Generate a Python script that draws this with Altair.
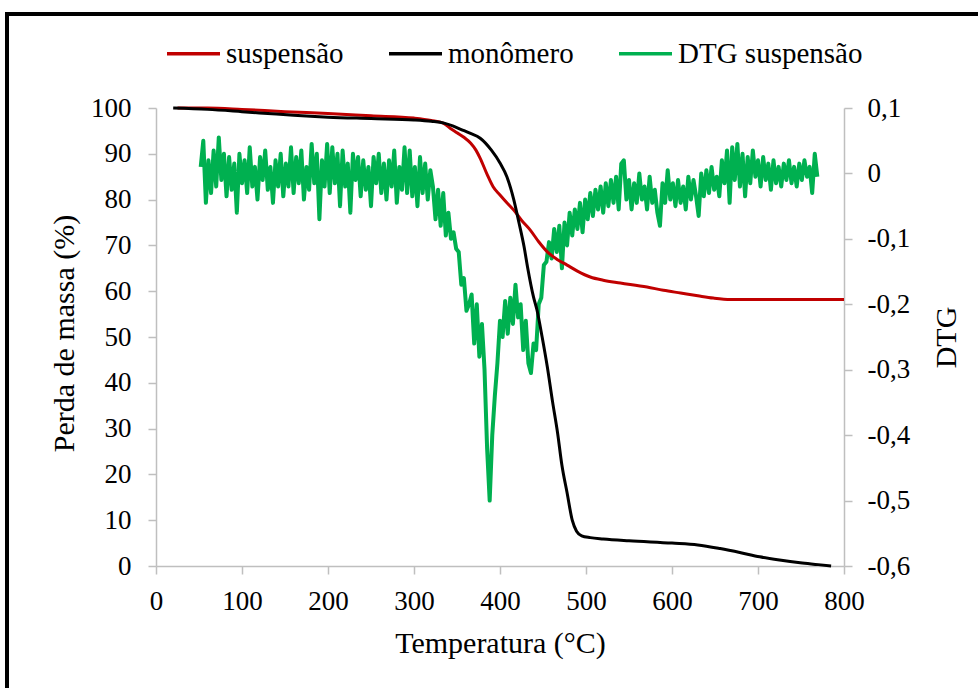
import altair as alt
import pandas as pd

# ---------------- data ----------------
# TG curve of the monomer (black)
mono_T = [20, 60, 100, 130, 160, 200, 250, 300, 320, 335, 345, 355, 365, 377, 390,
          400, 408, 416, 422, 428, 432, 439, 443, 449, 455, 461, 467, 472, 478, 484,
          489, 495, 505, 520, 550, 600, 630, 656, 680, 702, 725, 749, 770, 785]
mono_m = [100.0, 99.7, 99.2, 98.8, 98.4, 98.0, 97.7, 97.4, 97.1, 96.7, 96.1, 95.3, 94.5, 93.4, 90.8,
          88.0, 85.0, 80.0, 75.0, 69.7, 65.3, 58.7, 55.9, 50.0, 43.5, 36.0, 29.0, 22.0, 16.0, 10.0,
          7.6, 6.6, 6.2, 5.9, 5.5, 5.0, 4.6, 3.8, 2.9, 2.0, 1.3, 0.7, 0.3, 0.0]

# TG curve of the suspension (red)
susp_T = [25, 60, 100, 150, 200, 250, 300, 320, 334, 342, 350, 358, 366, 372, 377,
          385, 392, 400, 408, 416, 425, 435, 445, 455, 466, 478, 490, 505, 520, 540,
          571, 590, 610, 630, 648, 668, 700, 750, 800]
susp_m = [100.0, 100.0, 99.7, 99.2, 98.8, 98.3, 97.8, 97.3, 96.7, 95.6, 94.6, 93.6, 92.3, 90.8, 89.0,
          85.5, 82.8, 81.0, 79.3, 77.7, 75.5, 73.4, 70.8, 68.6, 67.0, 65.7, 64.4, 63.1, 62.4, 61.8,
          60.9, 60.2, 59.6, 59.0, 58.5, 58.2, 58.2, 58.2, 58.2]

# DTG of the suspension (green), sampled every 3 °C from 52 °C, in thousandths
dtg_start = 52
dtg_step = 3
dtg_plateau = [10, 50, -45, 20, -30, 35, -20, 55, -10, 30,
               -35, 25, -25, 15, -60, 30, -15, 20, -30, 40,
               -20, 10, -40, 25, -10, 35, -25, 10, -45, 20,
               -20, 30, -35, 15, -20, 40, -30, 25, -15, 35,
               -40, 10, -25, 45, -15, 30, -70, 20, -20, 45,
               -30, 40, -15, 30, -50, 35, -20, 15, -60, 30,
               -10, 25, -35, 20, -25, 10, -50, 25, -15, 30,
               -30, 15, -40, 20, -20, 35, -45, 10, -25, 40,
               -30, 35, -35, 10, -50, 25, -30, 15, -40, 5]
dtg_descent = [-20, -70, -25, -80, -30, -95, -60, -100, -90, -115,
               -120, -170, -160, -210, -200, -185, -260, -200, -280, -230,
               -300, -420, -500, -400, -340, -290, -225, -250, -195, -245,
               -190, -230, -170, -220, -200, -270, -225, -290, -305, -260,
               -270, -200, -190, -140, -135, -105]
dtg_rise = [-130, -85, -120, -80, -145, -75, -110, -60, -95, -55,
            -85, -45, -90, -40, -70, -30, -65, -25, -55, -20,
            -60, -15, -50, -10, -45, -5, -55, 15, 20, -40]
dtg_tail = [-10, -55, -15, -45, 0, -40, -20, -55, -5, -45,
            -25, -60, -80, -15, -45, 5, -40, -15, -50, -10,
            -45, -20, -55, -5, -40, -10, -35, -65, 0, -35,
            5, -30, 10, -25, -5, -35, 20, -15, 35, -45,
            40, -10, 45, -20, 30, -35, 25, -15, 35, -5,
            20, -20, 25, -10, 15, -25, 20, -15, 10, -20,
            15, -10, 20, -15, 10, -20, 15, -10, 20, -5,
            10, -30, 30, -5]

series = ["suspensão", "monômero", "DTG suspensão"]
colors = ["#C00000", "#000000", "#00B050"]
x_ticks = [0, 100, 200, 300, 400, 500, 600, 700, 800]
y_ticks = [0, 10, 20, 30, 40, 50, 60, 70, 80, 90, 100]
dtg_ticks = [-0.6, -0.5, -0.4, -0.3, -0.2, -0.1, 0, 0.1]

# ---------------- tables ----------------
dtg_vals = dtg_plateau + dtg_descent + dtg_rise + dtg_tail
dtg_df = pd.DataFrame({
    "T": [dtg_start + dtg_step * i for i in range(len(dtg_vals))],
    "dtg": [v / 1000 for v in dtg_vals],
    "serie": series[2],
})
susp_df = pd.DataFrame({"T": susp_T, "m": susp_m, "serie": series[0]})
mono_df = pd.DataFrame({"T": mono_T, "m": mono_m, "serie": series[1]})

FONT = "Liberation Serif"
GRAY = "#BFBFBF"
AX = dict(labelFont=FONT, titleFont=FONT, labelFontSize=27, titleFontSize=30,
          titleFontWeight="normal", labelColor="black", titleColor="black",
          domainColor=GRAY, domainWidth=1.5, tickColor=GRAY, tickWidth=1.5, tickSize=8,
          grid=False, labelFlush=False)

color_scale = alt.Scale(domain=series, range=colors)
x_enc = alt.X("T:Q", scale=alt.Scale(domain=[0, 800], nice=False),
              axis=alt.Axis(values=x_ticks, title="Temperatura (°C)",
                            labelPadding=14, titleBaseline="alphabetic", titleY=86, **AX))

color_enc = alt.Color("serie:N", scale=color_scale,
                      legend=alt.Legend(title=None, orient="none", direction="horizontal",
                                        legendX=9, legendY=-83, symbolType="stroke",
                                        symbolSize=2809, symbolStrokeWidth=3.5,
                                        labelFont=FONT, labelFontSize=29, labelOffset=4,
                                        columnPadding=38, labelLimit=400, padding=0,
                                        labelColor="black"))

left_axis = alt.Axis(orient="left", values=y_ticks, title="Perda de massa (%)",
                     labelPadding=17, titleAngle=270, titleBaseline="alphabetic",
                     titleX=-83, titleY=225, **AX)
right_axis = alt.Axis(orient="right", values=dtg_ticks, title="DTG",
                      labelPadding=15, titleAngle=270, titleBaseline="alphabetic",
                      titleX=111, titleY=229,
                      labelExpr="replace(replace(format(datum.value, '.1~f'), '.', ','), '\u2212', '-')",
                      **AX)

dtg_line = alt.Chart(dtg_df).mark_line(strokeWidth=4, strokeJoin="round").encode(
    x=x_enc,
    y=alt.Y("dtg:Q", scale=alt.Scale(domain=[-0.6, 0.1], nice=False, zero=False), axis=right_axis),
    color=color_enc,
)

susp_line = alt.Chart(susp_df).mark_line(strokeWidth=3, interpolate="monotone").encode(
    x=x_enc,
    y=alt.Y("m:Q", scale=alt.Scale(domain=[0, 100], nice=False), axis=left_axis),
    color=color_enc,
)
mono_line = alt.Chart(mono_df).mark_line(strokeWidth=3, interpolate="monotone").encode(
    x=x_enc,
    y=alt.Y("m:Q", scale=alt.Scale(domain=[0, 100], nice=False), axis=left_axis),
    color=color_enc,
)
tg_layer = alt.layer(susp_line, mono_line)

# black frame around the figure (top and left edges; right/bottom are cut off in the original)
one = alt.Data(values=[{"k": 1}])
frame_top = alt.Chart(one).mark_rect(color="black", clip=False).encode(
    x=alt.value(-151), x2=alt.value(822), y=alt.value(-96), y2=alt.value(-92))
frame_left = alt.Chart(one).mark_rect(color="black", clip=False).encode(
    x=alt.value(-151), x2=alt.value(-147), y=alt.value(-96), y2=alt.value(580))

chart = alt.layer(dtg_line, tg_layer, frame_top, frame_left).resolve_scale(
    y="independent"
).properties(
    width=688, height=458,
    padding={"left": 5, "top": 12, "right": 0, "bottom": 0},
    background="white",
).configure(font=FONT).configure_view(stroke=None).configure_axis(
    labelFont=FONT, titleFont=FONT
).configure_legend(labelFont=FONT)

chart.save("out.html", embed_options={"renderer": "svg", "actions": False})
